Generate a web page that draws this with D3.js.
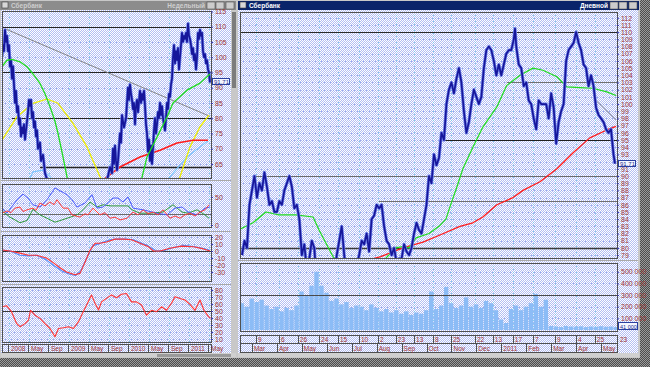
<!DOCTYPE html>
<html>
<head>
<meta charset="utf-8">
<script src="https://cdn.jsdelivr.net/npm/d3@7/dist/d3.min.js"></script>
<style>
body{margin:0;background:#6e6e6e;}
svg{display:block;}
text{font-family:"Liberation Sans",Arial,sans-serif;}
</style>
</head>
<body>
<script>
// ---- left window (weekly), time in months from Jan 2008 ----
var leftMonthTicks = [0,4,8,12,16,20,24,28,32,36,40];
var leftMonthLabels = ["2008","May","Sep","2009","May","Sep","2010","May","Sep","2011","May"];
var leftPriceTicks = [115,110,105,100,95,90,85,80,75,70,65];
var leftOscTicks = [50,0];
var leftMacdTicks = [20,10,0,-10,-20,-30];
var leftRsiTicks = [80,70,60,50,40,30,20,10];

var leftPrice = [[-1.4,100],[-1.2,104],[-1,102],[-0.8,109],[-0.6,105],[-0.4,107],[-0.2,102],[0,104],[0.2,97],[0.4,99],
 [0.6,93],[0.8,97],[1,91],[1.2,85],[1.4,89],[1.6,82],[1.8,84],[2,78],[2.2,80],[2.4,74],[2.6,77],[2.8,75],[3,78],
 [3.2,73],[3.4,76],[3.6,79],[3.8,82],[4,86],[4.2,84],[4.4,86],[4.6,80],[4.8,82],[5,77],[5.2,79],[5.4,74],[5.6,76],
 [5.8,70],[6.2,72],[6.4,66],[6.8,68],[7.2,62],[7.6,60],[8.2,52],[9.2,45],[10.2,35],[12.2,25],[14.2,20],[16.2,30],
 [18.2,45],[19.4,58],[20.2,64],[20.6,62],[20.8,70],[21,65],[21.2,71],[21.4,66],[21.6,63],[21.8,66],[22.2,75],[22.4,72],
 [22.6,81],[23,77],[23.4,80],[23.8,90],[24,86],[24.2,91],[24.4,88],[24.6,86],[24.8,83],[25,85],[25.2,78],[25.4,84],
 [25.6,86],[25.8,82],[26.2,89],[26.4,85],[26.6,88],[26.8,86],[27,89],[27.2,84],[27.4,78],[27.6,75],[27.8,69],[28,73],
 [28.2,66],[28.4,71],[28.6,65],[28.8,70],[29,76],[29.2,80],[29.4,75],[29.6,78],[29.8,82],[30,80],[30.2,85],[30.4,81],
 [30.6,84],[30.8,80],[31,78],[31.2,76],[31.4,80],[31.6,85],[31.8,83],[32,88],[32.2,87],[32.4,91],[32.6,93],[32.8,100],
 [33,104],[33.2,98],[33.4,102],[33.6,99],[33.8,103],[34,96],[34.2,100],[34.4,104],[34.6,108],[34.8,105],[35,107],
 [35.2,106],[35.4,108],[35.6,105],[35.8,111],[36,107],[36.2,106],[36.4,104],[36.6,101],[36.8,103],[37,99],[37.2,101],
 [37.4,96],[37.6,100],[37.8,108],[38,106],[38.2,109],[38.4,107],[38.6,108],[38.8,102],[39,100],[39.2,101],[39.4,98],
 [39.6,99],[39.8,96],[40,95],[40.2,91.71]];
var leftLast = 91.71;

var leftMaGreen = [[-1.4,96.9],[-0.4,99],[0.6,99.3],[2.2,98.5],[3.6,96.9],[4.8,94.5],[6.2,91.4],[7.2,88],[8.2,83.8],
 [9.2,79],[9.8,75],[10.8,67.3],[11.6,60.8],[12.6,52],[16.2,35],[20.2,42],[23.2,50],[25.4,56],[26.6,60.6],[27.6,67.3],
 [29.6,73.8],[31.6,80.4],[32.8,85],[35.6,89.2],[38.2,91.5],[40.2,94.5]];
var leftMaYellow = [[-1.4,72.8],[1.6,80.5],[4.8,84.9],[7.6,86.3],[9.8,84.9],[12.8,78.3],[15.6,70.6],[18.2,60.8],
 [22.2,50],[28.2,45],[32.2,52],[34.2,60.8],[36.2,70.6],[38.2,77.2],[40,81]];
var leftMaRed = [[17.2,57],[19.6,60.8],[22.2,64],[26.2,67.3],[30.2,69.5],[33.6,71.9],[36.8,72.8],[39.8,72.8]];
var leftMaSky = [[3.8,59],[4.8,62.4],[6.8,63],[8.2,60.8],[9.8,57]];
var leftMaSky2 = [[30.2,57],[32.2,60.8],[35.6,67.3],[38.2,70.6],[39.8,72.6]];
var leftLevels = [[110,-1.4],[95,-1.4],[80,0.6],[64,6.2]];
var leftTrend = [[-0.6,109.2],[40.2,80.6]];

var leftOscBlue = [[-1.4,30],[-0.4,21],[1.6,45],[2.8,55],[3.8,48],[4.8,36],[6.2,32],[7.6,45],[9.2,66],[10.6,59],
 [11.6,54],[12.6,45],[13.6,32],[15.2,39],[16.6,54],[17.6,30],[18.8,32],[20.8,48],[21.8,48],[22.8,41],[23.8,50],
 [24.8,30],[26.8,27],[29.6,21],[31.6,18],[33.2,30],[34.6,32],[35.8,23],[37.6,18],[39.2,30],[40.2,32]];
var leftOscRed = [[-1.4,21],[-0.4,25],[0.4,22],[1.2,30],[2.2,32],[2.8,24],[3.6,27],[4.8,30],[5.4,26],[6.2,39],[7.2,34],
 [8.2,41],[9,36],[9.6,45],[10.8,30],[11.8,30],[12.6,18],[14.2,14],[15.2,20],[15.8,18],[16.8,30],[18.2,18],[19.2,22],
 [20.2,12],[21.2,14],[22.2,9],[23.6,12],[24.8,23],[25.8,18],[26.8,27],[27.8,20],[28.8,23],[29.8,18],[30.8,27],
 [32.2,12],[33.2,16],[34.2,12],[35.2,18],[36.2,21],[37.2,16],[38.2,23],[39.2,27],[40,36]];
var leftOscGreen = [[-1.4,25],[0.2,14],[2.2,4],[3.6,8],[4.8,28],[6.2,18],[7.6,12],[9.2,5],[10.6,9],[11.6,12],[13.6,18],
 [14.8,27],[16.2,41],[17.6,32],[18.8,36],[20.2,34],[22.2,34],[23.8,34],[24.6,27],[26.2,21],[28.2,21],[30.8,23],
 [32.8,36],[34.6,23],[35.8,21],[37.6,27],[39.2,18],[40,12]];
var leftOscMid = 20;

var leftMacd = [[-1.4,1.4],[0.2,0],[2.2,-3],[3.9,-6],[5.5,-6],[7.5,-10],[8.9,-17],[10.2,-24],[11.5,-30],[13.2,-34],
 [14.2,-32],[15.2,-16],[16.2,1],[17.2,11],[18.2,11],[19.5,13],[21.2,17],[22.9,17],[24.5,16],[26.2,11],[27.9,6],
 [28.9,0],[30.2,0],[32.2,4],[34.5,7],[36.9,6],[38.9,3],[40.2,0]];
var leftMacdSignal = [[-1.4,1.4],[0.2,0],[2.2,-6],[3.9,-7],[5.5,-6],[7.5,-13],[9,-21],[10.7,-29],[12,-33],[13.3,-35],
 [14.3,-29],[15.3,-14],[16.7,7],[18.2,11],[20.2,16],[21.5,17],[23.5,17],[24.9,16],[26.2,12],[27.9,7],[29.5,0],
 [30.9,0.5],[32.9,5],[34.9,8],[37.2,6],[39.2,3],[40.2,1]];

var leftRsi = [[-1.4,56],[-0.5,57.6],[0.5,49],[1.5,32.4],[2.2,27.6],[3.2,32],[3.9,37],[4.3,51],[5.2,44],[6.2,39.5],
 [7.2,32],[8.2,25],[9.2,13.3],[9.9,25],[10.9,26],[11.9,27.6],[12.9,25],[13.9,34.8],[14.7,46.7],[15.7,61],[16.5,73],
 [17.2,61],[17.9,51.4],[18.5,63],[19.5,68],[20.5,73],[21.5,69],[22.5,74],[23.5,75],[24.5,63],[25.5,63],[26.5,58.6],
 [27.5,44],[28.5,51],[29.5,49],[30.5,56],[31.5,51],[32.5,61],[33.2,70.5],[34.2,68],[35.2,65.7],[36.2,59.5],
 [37.2,51],[38.2,65.7],[39,51],[39.9,42],[40.3,39.5]];

// ---- right window (daily), time in months from Mar 2010 ----
var rightMonthLabels = ["Mar","Apr","May","Jun","Jul","Aug","Sep","Oct","Nov","Dec","2011","Feb","Mar","Apr","May"];
var rightDayTicks = [0.16,1.08,1.84,2.69,3.45,4.29,5.05,5.77,6.5,7.26,7.98,8.94,9.66,10.46,11.27,12.15,13,13.75,14.68];
var rightDayLabels = ["9","6","26","24","15","10","2","23","13","8","25","22","13","17","7","9","4","25","23"];
var rightPriceTicks = [112,111,110,109,108,107,106,105,104,103,102,101,100,99,98,97,96,95,94,93,91,90,89,88,87,
 86,85,84,83,82,81,80,79];
var rightGridTicks = [112,111,110,109,108,107,106,105,104,103,102,101,100,99,98,97,96,95,94,93,92,91,90,89,88,87,
 86,85,84,83,82,81,80,79];
var rightVolumeTicks = [100000,200000,300000,400000,500000];

var rightPrice = [[-0.4,79],[-0.3,81],[-0.2,80],[-0.1,86],[0,88],[0.1,90],[0.2,87],[0.3,89],[0.4,88],[0.5,90.5],
 [0.6,88.5],[0.7,86],[0.8,86.5],[0.9,85],[1,85],[1.1,86.5],[1.2,86],[1.3,88],[1.4,89],[1.5,90],[1.6,88.5],[1.7,85.5],
 [1.8,86],[1.9,84],[2,79],[2.1,80.5],[2.2,77],[2.3,78.5],[2.4,81],[2.5,80],[2.6,75],[2.7,74],[2.8,72],[2.9,73],[3,71],
 [3.1,73],[3.2,75],[3.3,76],[3.4,79],[3.5,81],[3.6,83],[3.7,79],[3.8,76],[3.9,75],[4,76],[4.1,77],[4.2,77.5],[4.3,79],
 [4.4,81],[4.5,80.5],[4.6,82],[4.7,79.5],[4.8,84],[4.9,84.5],[5,86],[5.1,85.5],[5.2,86],[5.3,83],[5.4,81],[5.5,80.5],
 [5.6,79],[5.7,80],[5.8,78],[5.9,78.5],[6,78.5],[6.1,80.5],[6.2,79.5],[6.3,79],[6.4,80],[6.5,82],[6.6,83.5],[6.7,82.5],
 [6.8,82],[6.9,84],[7,86],[7.1,90],[7.2,89],[7.3,93],[7.4,91.5],[7.5,92.5],[7.6,96],[7.7,95],[7.8,100],[7.9,102],
 [8,103],[8.1,101.5],[8.2,103.5],[8.3,105],[8.4,103],[8.5,99],[8.6,96],[8.7,97.5],[8.8,100],[8.9,102],[9,101],
 [9.1,100],[9.2,101],[9.3,105],[9.4,107.5],[9.5,108],[9.6,107.5],[9.7,106],[9.8,104],[9.9,105.5],[10,104],[10.1,105.5],
 [10.2,107],[10.3,107.5],[10.4,107.5],[10.5,109],[10.55,110.5],[10.6,108],[10.7,105.5],[10.8,105],[10.9,102.5],[11,103],
 [11.1,100.5],[11.2,100],[11.3,98],[11.4,96.5],[11.5,100.5],[11.6,100],[11.7,100],[11.8,100],[11.9,98],[12,101.5],
 [12.1,99.5],[12.2,94.5],[12.3,97.5],[12.4,99],[12.5,100],[12.6,106],[12.7,107.5],[12.8,108],[12.9,108.5],[13,110],
 [13.1,108.5],[13.2,107.5],[13.3,105.5],[13.4,105],[13.5,102.5],[13.6,104],[13.7,102.5],[13.8,99.5],[13.9,98.5],
 [14,98],[14.1,97.5],[14.2,96.5],[14.3,96],[14.4,96.5],[14.5,93],[14.56,91.71]];
var rightLast = 91.71;

var rightMaGreen = [[-0.48,82.6],[0.04,83.5],[0.56,85],[1.08,84.6],[1.76,84.6],[2.45,84.3],[2.69,82.5],[3.25,78.8],
 [3.93,76],[4.93,77],[5.77,80],[6.05,80.2],[6.3,80],[6.58,81.4],[7.1,82],[7.5,83],[7.78,84],[7.94,85.7],[8.22,88.5],
 [8.46,91],[8.86,94],[9.26,96.8],[9.46,97.8],[9.82,99.6],[10.22,102.6],[10.75,104],[11.27,105],[11.67,104.7],
 [12.23,103.8],[12.63,102.4],[13.15,102.3],[13.67,102.2],[14.23,101.7],[14.6,101.2]];
var rightMaRed = [[4.33,78],[5.17,78.8],[6.05,80],[6.86,80.8],[7.54,81.8],[8.34,83],[8.86,83.5],[9.26,84.3],
 [9.82,86],[10.47,87],[10.87,88],[11.55,89.2],[12.23,91],[12.87,93.2],[13.55,95.3],[14.23,96.4],[14.6,96.9]];
var rightLevels = [[110,-0.48,"#2a2a2a"],[103,10.22,"#707070"],[95,7.66,"#1e1e1e"],[90,0.08,"#6a6a6a"],
 [86.5,5.09,"#707070"],[80,-0.48,"#3a3a3a"]];
var rightTrend = [[13.8,100.5],[14.6,97.8]];

var rightVolume = [[-0.4,230000],[-0.2,200000],[0,270000],[0.2,240000],[0.4,260000],[0.6,210000],[0.8,180000],
 [1,200000],[1.2,160000],[1.4,190000],[1.6,170000],[1.8,210000],[2,330000],[2.2,300000],[2.4,380000],[2.6,500000],
 [2.8,380000],[3,320000],[3.2,250000],[3.4,270000],[3.6,220000],[3.8,240000],[4,190000],[4.2,210000],[4.4,200000],
 [4.6,170000],[4.8,220000],[5,190000],[5.2,160000],[5.4,180000],[5.6,150000],[5.8,170000],[6,140000],[6.2,160000],
 [6.4,130000],[6.6,150000],[6.8,140000],[7,170000],[7.2,330000],[7.4,180000],[7.6,210000],[7.8,370000],[8,230000],
 [8.2,190000],[8.4,210000],[8.6,280000],[8.8,200000],[9,220000],[9.2,190000],[9.4,250000],[9.6,230000],[9.8,170000],
 [10,90000],[10.2,60000],[10.4,180000],[10.6,210000],[10.8,170000],[11,200000],[11.2,230000],[11.4,310000],
 [11.6,200000],[11.8,260000],[12,35000],[12.2,30000],[12.4,25000],[12.6,35000],[12.8,30000],[13,28000],[13.2,32000],
 [13.4,25000],[13.6,30000],[13.8,27000],[14,33000],[14.2,28000],[14.4,30000],[14.6,26000]];
var rightVolumeLast = "41 000";

function init(){
    var W = 650, H = 367;
    var labelColor = "#9e3434";
    var svg = d3.select("body").append("svg").attr("width", W).attr("height", H);
    var defs = svg.append("defs");

    // dither-like fills
    var pBg = defs.append("pattern").attr("id","bgDither").attr("width",2).attr("height",2).attr("patternUnits","userSpaceOnUse");
    pBg.append("rect").attr("width",2).attr("height",2).attr("fill","#ffffff");
    pBg.append("rect").attr("x",1).attr("width",1).attr("height",1).attr("fill","#b3bef3");
    pBg.append("rect").attr("y",1).attr("width",1).attr("height",1).attr("fill","#b3bef3");
    var pDesk = defs.append("pattern").attr("id","deskDither").attr("width",2).attr("height",2).attr("patternUnits","userSpaceOnUse");
    pDesk.append("rect").attr("width",2).attr("height",2).attr("fill","#9a9a9a");
    pDesk.append("rect").attr("x",1).attr("width",1).attr("height",1).attr("fill","#4c4c4c");
    pDesk.append("rect").attr("y",1).attr("width",1).attr("height",1).attr("fill","#4c4c4c");

    svg.append("rect").attr("width",W).attr("height",H).attr("fill","url(#deskDither)");

    function clip(id, x0, y0, x1, y1){
        defs.append("clipPath").attr("id", id).append("rect")
            .attr("x", x0).attr("y", y0).attr("width", x1 - x0).attr("height", y1 - y0);
        return svg.append("g").attr("clip-path", "url(#" + id + ")");
    }
    function line(g, data, xs, ys, color, w){
        g.append("path").datum(data)
            .attr("d", d3.line().x(function(d){ return xs(d[0]); }).y(function(d){ return ys(d[1]); }))
            .attr("fill","none").attr("stroke",color).attr("stroke-width",w)
            .attr("stroke-linejoin","round");
    }
    function border(x0, y0, x1, y1){
        svg.append("rect").attr("x",x0+0.5).attr("y",y0+0.5).attr("width",x1-x0).attr("height",y1-y0)
            .attr("fill","none").attr("stroke","#505050").attr("stroke-width",1);
    }
    function hgrid(g, ticks, ys, x0, x1){
        g.selectAll(null).data(ticks).enter().append("line")
            .attr("x1",x0).attr("x2",x1)
            .attr("y1",function(d){ return Math.round(ys(d)) + 0.5; })
            .attr("y2",function(d){ return Math.round(ys(d)) + 0.5; })
            .attr("stroke","#97a8ec").attr("stroke-dasharray","1,2");
    }
    function vgrid(g, ticks, xs, y0, y1){
        g.selectAll(null).data(ticks).enter().append("line")
            .attr("y1",y0).attr("y2",y1)
            .attr("x1",function(d){ return Math.round(xs(d)) + 0.5; })
            .attr("x2",function(d){ return Math.round(xs(d)) + 0.5; })
            .attr("stroke","#7fcfe8").attr("stroke-dasharray","1,2");
    }
    function axis(x, scale, ticks, fmt){
        var g = svg.append("g").attr("transform","translate(" + x + ",0)")
            .call(d3.axisRight(scale).tickValues(ticks).tickSize(2).tickPadding(2)
                .tickFormat(fmt || function(d){ return d; }));
        g.select(".domain").remove();
        g.selectAll(".tick line").attr("stroke","#3c3cb0");
        g.selectAll("text").attr("fill",labelColor).style("font-size","7px")
            .style("font-family","'Liberation Sans', Arial, sans-serif");
        return g;
    }
    function lastBox(x, y, txt){
        svg.append("rect").attr("x",x+0.5).attr("y",Math.round(y)-3.5).attr("width",17).attr("height",6)
            .attr("fill","#f4f6ff").attr("stroke","#2a3fa0");
        svg.append("text").attr("x",x+2).attr("y",Math.round(y)+2).attr("font-size",6).attr("fill","#1c2a90").text(txt);
    }
    function titleBar(x, w, active, left, right){
        svg.append("rect").attr("x",x).attr("y",1).attr("width",w).attr("height",9)
            .attr("fill", active ? "#0a246a" : "#8c8c8c");
        svg.append("rect").attr("x",x+2).attr("y",2).attr("width",6).attr("height",6)
            .attr("fill","#d8d8d8").attr("stroke","#404040").attr("stroke-width",0.6);
        svg.append("text").attr("x",x+11).attr("y",8).attr("font-size",6.5).attr("font-weight","bold")
            .attr("fill", active ? "#ffffff" : "#cfcfcf").text(left);
        var bx = x + w - 29;
        svg.append("text").attr("x",bx-2).attr("y",8).attr("text-anchor","end").attr("font-size",6.5)
            .attr("font-weight","bold").attr("fill", active ? "#ffffff" : "#cfcfcf").text(right);
        [0,9,19].forEach(function(o){
            svg.append("rect").attr("x",bx+o).attr("y",2).attr("width",8).attr("height",7)
                .attr("fill","#cccccc").attr("stroke","#505050").attr("stroke-width",0.6);
        });
    }

    // ================= LEFT WINDOW =================
    svg.append("rect").attr("x",0).attr("y",0).attr("width",237).attr("height",358).attr("fill","#c8c8c8");
    titleBar(0, 236, false, "Сбербанк", "Недельный");
    svg.append("rect").attr("x",1).attr("y",10).attr("width",230).attr("height",344).attr("fill","url(#bgDither)");
    svg.append("rect").attr("x",232).attr("y",12).attr("width",4).attr("height",76).attr("fill","#7c7c7c");
    [180.5, 231.5, 284.5].forEach(function(y){
        svg.append("line").attr("x1",1).attr("x2",231).attr("y1",y).attr("y2",y).attr("stroke","#a8a8a8");
    });

    var xL = d3.scaleLinear().domain([-1.4, 40.4]).range([2, 211]);
    var yL1 = d3.scaleLinear().domain([60.4, 115.15]).range([178, 11]);
    var yL2 = d3.scaleLinear().domain([-3.6, 73]).range([227, 184]);
    var yL3 = d3.scaleLinear().domain([-42.9, 22.9]).range([281, 235]);
    var yL4 = d3.scaleLinear().domain([5.7, 84.3]).range([342, 287]);

    // price panel
    var g1 = clip("cl1", 2, 11, 211, 178);
    hgrid(g1, leftPriceTicks, yL1, 2, 211);
    vgrid(g1, leftMonthTicks, xL, 11, 178);
    leftLevels.forEach(function(l){
        g1.append("line").attr("x1",xL(l[1])).attr("x2",211)
            .attr("y1",Math.round(yL1(l[0]))+0.5).attr("y2",Math.round(yL1(l[0]))+0.5)
            .attr("stroke","#242424").attr("stroke-width", l[0] === 64 ? 1.6 : 1.2);
    });
    line(g1, leftTrend, xL, yL1, "#7a7a7a", 0.9);
    line(g1, leftMaSky, xL, yL1, "#7cc6ff", 1.2);
    line(g1, leftMaSky2, xL, yL1, "#7cc6ff", 1.2);
    line(g1, leftMaYellow, xL, yL1, "#eeee00", 1.3);
    line(g1, leftMaRed, xL, yL1, "#ff1c1c", 1.6);
    line(g1, leftPrice, xL, yL1, "#6f80ea", 3.2);
    line(g1, leftPrice, xL, yL1, "#16169a", 1.7);
    line(g1, leftMaGreen, xL, yL1, "#1fdc1f", 1.3);
    border(2, 11, 211, 178);
    axis(211, yL1, leftPriceTicks);
    lastBox(212, yL1(leftLast), String(leftLast));

    // oscillator panel
    var g2 = clip("cl2", 2, 184, 211, 227);
    hgrid(g2, [40,60], yL2, 2, 211);
    vgrid(g2, leftMonthTicks, xL, 184, 227);
    g2.append("line").attr("x1",2).attr("x2",211).attr("y1",Math.round(yL2(leftOscMid))+0.5)
        .attr("y2",Math.round(yL2(leftOscMid))+0.5).attr("stroke","#6a6a6a");
    line(g2, leftOscGreen, xL, yL2, "#2f9a3a", 1);
    line(g2, leftOscBlue, xL, yL2, "#4a5cff", 1);
    line(g2, leftOscRed, xL, yL2, "#ff3a3a", 1);
    border(2, 184, 211, 227);
    axis(211, yL2, leftOscTicks);

    // macd panel
    var g3 = clip("cl3", 2, 235, 211, 281);
    hgrid(g3, leftMacdTicks, yL3, 2, 211);
    vgrid(g3, leftMonthTicks, xL, 235, 281);
    g3.append("line").attr("x1",2).attr("x2",211).attr("y1",Math.round(yL3(0))+0.5)
        .attr("y2",Math.round(yL3(0))+0.5).attr("stroke","#3a3a3a");
    line(g3, leftMacdSignal, xL, yL3, "#4f8cff", 1.1);
    line(g3, leftMacd, xL, yL3, "#ff3333", 1.1);
    border(2, 235, 211, 281);
    axis(211, yL3, leftMacdTicks);

    // rsi panel
    var g4 = clip("cl4", 2, 287, 211, 342);
    hgrid(g4, leftRsiTicks, yL4, 2, 211);
    vgrid(g4, leftMonthTicks, xL, 287, 342);
    g4.append("line").attr("x1",2).attr("x2",211).attr("y1",Math.round(yL4(50))+0.5)
        .attr("y2",Math.round(yL4(50))+0.5).attr("stroke","#3a3a3a");
    line(g4, leftRsi, xL, yL4, "#ff3333", 1.1);
    border(2, 287, 211, 342);
    axis(211, yL4, leftRsiTicks);

    // date row
    border(2, 344, 211, 352);
    var gd = svg.append("g");
    gd.selectAll("line").data(leftMonthTicks).enter().append("line")
        .attr("x1",function(d){ return Math.round(xL(d)) - 0.5; })
        .attr("x2",function(d){ return Math.round(xL(d)) - 0.5; })
        .attr("y1",344).attr("y2",352).attr("stroke","#505050");
    gd.selectAll("text").data(leftMonthLabels).enter().append("text")
        .attr("x",function(d,i){ return xL(leftMonthTicks[i]) + 2; }).attr("y",351)
        .attr("font-size",6.5).attr("fill",labelColor).text(function(d){ return d; });
    svg.append("rect").attr("x",1).attr("y",353).attr("width",235).attr("height",4).attr("fill","#d0d0d0");
    svg.append("rect").attr("x",157).attr("y",354).attr("width",74).attr("height",3).attr("fill","#9a9a9a");

    // ================= RIGHT WINDOW =================
    svg.append("rect").attr("x",237).attr("y",0).attr("width",403).attr("height",358).attr("fill","#c8c8c8");
    titleBar(238, 401, true, "Сбербанк", "Дневной");
    svg.append("rect").attr("x",238).attr("y",10).attr("width",400).attr("height",344).attr("fill","url(#bgDither)");
    svg.append("line").attr("x1",238).attr("x2",638).attr("y1",260.5).attr("y2",260.5).attr("stroke","#a8a8a8");

    var xR = d3.scaleLinear().domain([-0.48, 14.64]).range([240, 617]);
    var yR = d3.scaleLinear().domain([78.6, 112.8]).range([258, 12]);
    var yV = d3.scaleLinear().domain([0, 575000]).range([330, 263]);

    var r1 = clip("cr1", 240, 12, 617, 258);
    hgrid(r1, rightGridTicks, yR, 240, 617);
    vgrid(r1, rightDayTicks, xR, 12, 258);
    rightLevels.forEach(function(l){
        r1.append("line").attr("x1",xR(l[1])).attr("x2",617)
            .attr("y1",Math.round(yR(l[0]))+0.5).attr("y2",Math.round(yR(l[0]))+0.5)
            .attr("stroke",l[2]).attr("stroke-width", l[0] === 80 ? 1.6 : 1.1);
    });
    line(r1, rightTrend, xR, yR, "#7a7a7a", 0.8);
    line(r1, rightMaRed, xR, yR, "#ff1c1c", 1.3);
    line(r1, rightMaGreen, xR, yR, "#1fdc1f", 1.2);
    line(r1, rightPrice, xR, yR, "#6f80ea", 3.2);
    line(r1, rightPrice, xR, yR, "#16169a", 1.7);
    border(240, 12, 617, 258);
    axis(617, yR, rightPriceTicks);
    lastBox(618, yR(rightLast), String(rightLast));

    // volume
    var r2 = clip("cr2", 240, 263, 617, 331);
    hgrid(r2, rightVolumeTicks, yV, 240, 617);
    vgrid(r2, rightDayTicks, xR, 263, 331);
    var bw = xR(0.2) - xR(0);
    r2.selectAll(".vol").data(rightVolume).enter().append("rect")
        .attr("x",function(d){ return xR(d[0]) - bw / 2; })
        .attr("y",function(d){ return yV(d[1]); })
        .attr("width",bw - 0.6)
        .attr("height",function(d){ return yV(0) - yV(d[1]); })
        .attr("fill","#8cbcf6");
    r2.append("line").attr("x1",240).attr("x2",617).attr("y1",Math.round(yV(300000))+0.5)
        .attr("y2",Math.round(yV(300000))+0.5).attr("stroke","#4a4a4a");
    border(240, 263, 617, 331);
    axis(617, yV, rightVolumeTicks, function(d){ return d3.format(",")(d).replace(/,/g, " "); });
    svg.append("rect").attr("x",618.5).attr("y",322.5).attr("width",19).attr("height",7)
        .attr("fill","#f4f6ff").attr("stroke","#2a3fa0");
    svg.append("text").attr("x",620).attr("y",328.5).attr("font-size",5.5).attr("fill","#1c2a90").text(rightVolumeLast);

    // date rows
    border(240, 335, 617, 343);
    border(240, 343, 617, 352);
    var rd = svg.append("g");
    rd.selectAll("line").data(rightDayTicks.filter(function(d){ return xR(d) < 617; })).enter().append("line")
        .attr("x1",function(d){ return Math.round(xR(d)) + 0.5; })
        .attr("x2",function(d){ return Math.round(xR(d)) + 0.5; })
        .attr("y1",335).attr("y2",343).attr("stroke","#505050");
    rd.selectAll("text").data(rightDayLabels).enter().append("text")
        .attr("x",function(d,i){ return xR(rightDayTicks[i]) + 2; }).attr("y",341.5)
        .attr("font-size",6.5).attr("fill",labelColor).text(function(d){ return d; });
    var rm = svg.append("g");
    rm.selectAll("line").data(rightMonthLabels).enter().append("line")
        .attr("x1",function(d,i){ return Math.round(xR(i)) + 0.5; })
        .attr("x2",function(d,i){ return Math.round(xR(i)) + 0.5; })
        .attr("y1",343).attr("y2",352).attr("stroke","#505050");
    rm.selectAll("text").data(rightMonthLabels).enter().append("text")
        .attr("x",function(d,i){ return xR(i) + 2; }).attr("y",350.5)
        .attr("font-size",6.5).attr("fill",labelColor).text(function(d){ return d; });
    svg.append("rect").attr("x",238).attr("y",353).attr("width",401).attr("height",4).attr("fill","#d0d0d0");
}

window.onload = init;
</script>
</body>
</html>
